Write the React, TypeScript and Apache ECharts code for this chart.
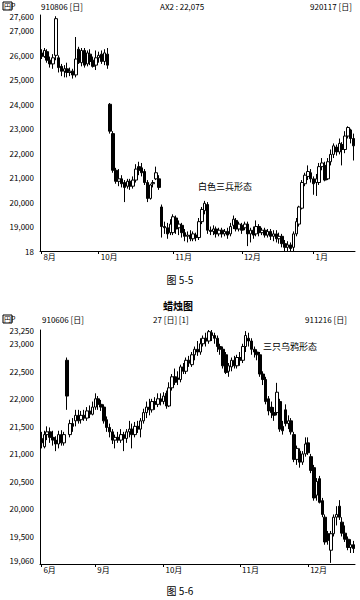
import React, { useEffect, useRef } from "react";
import * as echarts from "echarts";

// ---- Chart 1 (图 5-5) : [open, close, low, high]
const c1Candles: number[][] = [
  [26100, 25950, 25850, 26250], [25950, 26200, 25900, 26300], [26150, 25800, 25700, 26250], [25800, 25650, 25500, 25950],
  [25650, 25900, 25450, 26050], [26000, 27500, 25800, 27600], [25900, 25500, 25300, 26000], [25550, 25350, 25150, 25650],
  [25350, 25450, 25100, 25600], [25450, 25300, 25100, 25700], [25300, 25350, 25150, 25500], [25350, 25200, 25050, 25450],
  [25200, 25850, 25100, 26750], [26250, 25700, 25650, 26350], [25700, 26200, 25550, 26300], [26200, 25600, 25500, 26300],
  [25650, 26100, 25550, 26200], [26050, 25750, 25600, 26250], [25800, 25550, 25500, 25950], [25600, 25900, 25400, 26200],
  [25900, 26000, 25700, 26150], [26050, 25750, 25650, 26200], [25750, 26100, 25600, 26250], [26050, 25600, 25450, 26300],
  [24000, 22900, 22800, 24050], [22800, 21300, 21200, 22900], [21300, 20850, 20750, 21400], [20850, 20950, 20650, 21350],
  [20950, 20750, 20600, 21100], [20800, 20600, 20000, 20900], [20650, 20850, 20550, 20950], [20850, 20650, 20500, 20950],
  [20650, 20900, 20550, 21050], [20900, 21350, 20800, 21550], [21450, 21300, 21100, 21650], [21400, 21200, 21050, 21600],
  [21250, 20800, 20700, 21350], [20800, 20150, 20000, 20900], [20150, 20700, 20100, 20750], [20750, 20800, 20600, 20900],
  [20950, 21200, 20900, 21450], [20950, 20600, 20500, 21100], [19800, 19000, 18550, 19900], [19000, 18950, 18700, 19200],
  [18950, 18700, 18500, 19150], [18750, 19100, 18650, 19300], [18750, 19400, 18650, 19500], [19350, 18900, 18700, 19450],
  [18950, 19100, 18650, 19250], [19050, 18750, 18550, 19150], [18750, 18600, 18400, 18900], [18600, 18650, 18350, 18800],
  [18650, 18500, 18400, 18850], [18500, 18700, 18400, 18800], [18650, 18550, 18400, 18750], [18550, 19200, 18450, 19350],
  [19200, 19700, 19100, 19800], [19650, 19950, 19500, 20050], [19900, 18850, 18700, 20000], [18850, 18800, 18650, 19000],
  [18800, 18900, 18650, 19050], [18900, 18700, 18550, 19000], [18700, 18850, 18600, 18950], [18850, 18700, 18550, 18950],
  [18700, 18800, 18600, 18900], [18800, 18650, 18500, 18950], [18700, 19000, 18600, 19150], [19050, 19300, 18900, 19450],
  [19250, 18900, 18800, 19350], [18900, 19100, 18800, 19200], [19050, 18850, 18700, 19150], [18950, 19100, 18850, 19200],
  [19100, 18700, 18200, 19200], [18700, 18850, 18350, 18950], [18850, 18650, 18500, 19000], [18700, 19000, 18600, 19250],
  [19000, 18750, 18600, 19100], [18750, 18850, 18650, 18950], [18850, 18650, 18550, 18950], [18650, 18800, 18550, 18900],
  [18800, 18600, 18450, 18900], [18600, 18700, 18400, 18850], [18700, 18500, 18350, 18850], [18500, 18600, 18300, 18750],
  [18600, 18300, 18150, 18700], [18300, 18150, 18000, 18450], [18150, 18250, 18000, 18400], [18250, 18100, 18000, 18350],
  [18150, 18700, 18000, 18800], [18700, 19200, 18600, 19350], [19100, 19800, 19000, 19850], [19750, 20800, 19700, 20900],
  [20750, 21100, 20650, 21200], [21050, 21250, 20900, 21500], [21200, 20950, 20800, 21350], [20950, 20750, 20300, 21050],
  [20800, 20950, 20250, 21150], [20800, 21450, 20700, 21600], [21450, 21600, 21300, 21800], [21500, 20900, 20850, 21650],
  [20950, 21650, 20900, 21800], [21650, 21950, 21500, 22150], [21950, 22300, 21800, 22400], [22250, 22050, 21900, 22350],
  [22050, 22400, 21950, 22600], [22350, 22150, 21500, 22450], [22150, 22700, 22000, 22900], [22700, 23050, 22600, 23100],
  [22950, 22600, 22400, 23000], [22600, 22300, 21700, 22800],
];
const c1TickIdx = [0, 20, 46, 70, 95];
const c1TickLabels = ["8月", "10月", "11月", "12月", "1月"];
const c1YValues = [18000, 19000, 20000, 21000, 22000, 23000, 24000, 25000, 26000, 27000, 27600];

// ---- Chart 2 (图 5-6)
const c2Candles: number[][] = [
  [21280, 21200, 21100, 21400], [21130, 21350, 21100, 21420], [21350, 21400, 21250, 21500], [21400, 21300, 21200, 21480],
  [21300, 21250, 21150, 21420], [21250, 21180, 21050, 21320], [21180, 21350, 21100, 21420], [21350, 21200, 21150, 21430],
  [21200, 21350, 21150, 21400], [22700, 22050, 21800, 22750], [21350, 21550, 21300, 21620], [21550, 21500, 21400, 21650],
  [21600, 21700, 21500, 21800], [21700, 21600, 21550, 21800], [21620, 21700, 21550, 21780], [21700, 21650, 21600, 21800],
  [21650, 21780, 21600, 21850], [21780, 21720, 21650, 21880], [21720, 21850, 21700, 21950], [21850, 22000, 21800, 22100],
  [22000, 21900, 21800, 22050], [21900, 21850, 21780, 21980], [21850, 21600, 21550, 21900], [21620, 21480, 21400, 21680],
  [21480, 21400, 21300, 21550], [21400, 21250, 21180, 21450], [21250, 21300, 21100, 21350], [21300, 21250, 21200, 21400],
  [21250, 21350, 21200, 21450], [21350, 21280, 21050, 21400], [21280, 21400, 21200, 21450], [21400, 21450, 21300, 21600],
  [21450, 21350, 21100, 21550], [21350, 21500, 21300, 21580], [21500, 21450, 21380, 21600], [21450, 21600, 21300, 21650],
  [21600, 21750, 21550, 21820], [21750, 21850, 21650, 21950], [21850, 21800, 21700, 22000], [21800, 21950, 21750, 22000],
  [21950, 21900, 21800, 22030], [21900, 22000, 21850, 22100], [22000, 21950, 21880, 22100], [21950, 22050, 21900, 22120],
  [22100, 21870, 21820, 22150], [21870, 22200, 21850, 22300], [22200, 22400, 22150, 22450], [22400, 22300, 22250, 22550],
  [22380, 22350, 22250, 22500], [22350, 22580, 22300, 22620], [22580, 22500, 22450, 22650], [22500, 22700, 22450, 22750],
  [22700, 22650, 22580, 22780], [22620, 22800, 22580, 22850], [22800, 22900, 22700, 22950], [22900, 22850, 22780, 23050],
  [22850, 23000, 22800, 23100], [23000, 23100, 22950, 23150], [23100, 23050, 22950, 23200], [23050, 23220, 23000, 23250],
  [23200, 23150, 23050, 23250], [23150, 23100, 23000, 23200], [23100, 22950, 22850, 23150], [22950, 22900, 22800, 23000],
  [22900, 22600, 22550, 22950], [22800, 22480, 22450, 22850], [22500, 22600, 22400, 22650], [22580, 22700, 22500, 22750],
  [22700, 22600, 22550, 22780], [22600, 22750, 22550, 22800], [22750, 22700, 22600, 22850], [22700, 22950, 22650, 23000],
  [22950, 23150, 22850, 23230], [23100, 23050, 22950, 23200], [23050, 22900, 22800, 23100], [22900, 22850, 22750, 22950],
  [22850, 22800, 22700, 22900], [22800, 22450, 22400, 22850], [22450, 22350, 22250, 22500], [22350, 21950, 21900, 22400],
  [22000, 21780, 21700, 22050], [21850, 21750, 21650, 21950], [21750, 21700, 21600, 21850], [21750, 22120, 21700, 22290],
  [21950, 21450, 21400, 22000], [21500, 21420, 21350, 21600], [21800, 21550, 21500, 21900], [21550, 21600, 21450, 21700],
  [21600, 21400, 21350, 21650], [21350, 20900, 20850, 21400], [20900, 21100, 20800, 21150], [21050, 20850, 20750, 21100],
  [20850, 21000, 20800, 21050], [21000, 21180, 20950, 21300], [21200, 21020, 20980, 21300], [20950, 20700, 20650, 21000],
  [20750, 20200, 20150, 20800], [20250, 20500, 20150, 20560], [20550, 20120, 20100, 20600], [20150, 19900, 19850, 20200],
  [19850, 19400, 19350, 19900], [19550, 19430, 19350, 19600], [19250, 19550, 19020, 19600], [19550, 19850, 19500, 19900],
  [19850, 19900, 19700, 20050], [20050, 19850, 19800, 20160], [19760, 19560, 19500, 19850], [19560, 19450, 19400, 19700],
  [19450, 19300, 19250, 19500], [19300, 19350, 19200, 19450], [19350, 19280, 19200, 19420],
];
const c2TickIdx = [0, 19, 43, 70, 94];
const c2TickLabels = ["6月", "9月", "10月", "11月", "12月"];
const c2YValues = [19060, 19500, 20000, 20500, 21000, 21500, 22000, 22500, 23000, 23250];

const FONT = '"Noto Sans CJK SC", "DejaVu Sans", sans-serif';

function fmtNum(v: number): string {
  const th = Math.floor(v / 1000);
  const rest = Math.round(v % 1000);
  return th + "," + String(rest).padStart(3, "0");
}

function xAxisFor(grid: number, n: number, idx: number[], labels: string[]) {
  const cats = Array.from({ length: n }, (_, i) => String(i));
  const show = (i: number) => idx.indexOf(i) >= 0;
  return {
    gridIndex: grid,
    type: "category",
    data: cats,
    boundaryGap: true,
    axisLine: { show: true, onZero: false, lineStyle: { color: "#000", width: 1 } },
    axisTick: { show: true, length: 3, alignWithLabel: true, interval: (i: number) => show(i), lineStyle: { color: "#000" } },
    axisLabel: {
      interval: (i: number) => show(i),
      formatter: (_v: string, i: number) => {
        const k = idx.indexOf(i);
        return k >= 0 ? labels[k] : "";
      },
      align: "left",
      padding: [0, 0, 0, 2],
      margin: 1,
      fontSize: 8,
      color: "#000",
      fontFamily: FONT,
    },
    splitLine: { show: false },
  };
}

function text(x: number, y: number, s: string, size: number, align = "left", weight = "normal") {
  return {
    type: "text",
    x,
    y,
    silent: true,
    style: {
      text: s,
      fill: "#000",
      font: `${weight} ${size}px ${FONT}`,
      align,
      textAlign: align,
      verticalAlign: "middle",
      textVerticalAlign: "middle",
    },
  };
}

export default function App() {
  const ref = useRef<HTMLDivElement>(null);
  useEffect(() => {
    if (!ref.current) return;
    const chart = echarts.init(ref.current, null, { renderer: "svg" });
    const candleStyle = {
      color: "#fff",
      color0: "#000",
      borderColor: "#000",
      borderColor0: "#000",
      borderColorDoji: "#000",
      borderWidth: 1,
    };
    chart.setOption({
      animation: false,
      backgroundColor: "#fff",
      textStyle: { fontFamily: FONT },
      grid: [
        { left: 40, right: 5, top: 15, height: 236 },
        { left: 40, right: 5, top: 330, height: 234 },
      ],
      xAxis: [
        xAxisFor(0, c1Candles.length, c1TickIdx, c1TickLabels),
        xAxisFor(1, c2Candles.length, c2TickIdx, c2TickLabels),
      ],
      yAxis: [
        {
          gridIndex: 0,
          type: "value",
          min: 18000,
          max: 27650,
          axisLine: { show: true, lineStyle: { color: "#000" } },
          axisTick: { show: false },
          splitLine: { show: false },
          axisLabel: {
            customValues: c1YValues,
            formatter: (v: number) => (v === 18000 ? "18" : fmtNum(v)),
            fontSize: 8,
            color: "#000",
            margin: 6,
            fontFamily: FONT,
          },
        },
        {
          gridIndex: 1,
          type: "value",
          min: 19000,
          max: 23250,
          axisLine: { show: true, lineStyle: { color: "#000" } },
          axisTick: { show: false },
          splitLine: { show: false },
          axisLabel: {
            customValues: c2YValues,
            formatter: (v: number) => fmtNum(v),
            fontSize: 8,
            color: "#000",
            margin: 6,
            fontFamily: FONT,
          },
        },
      ],
      series: [
        { type: "candlestick", xAxisIndex: 0, yAxisIndex: 0, data: c1Candles, barWidth: 3, itemStyle: candleStyle },
        { type: "candlestick", xAxisIndex: 1, yAxisIndex: 1, data: c2Candles, barWidth: 3, itemStyle: candleStyle },
      ],
      graphic: [
        { type: "rect", shape: { x: 3, y: 2, width: 9, height: 8 }, style: { fill: "none", stroke: "#000", lineWidth: 1 } },
        text(4, 6, "円P", 7),
        text(41, 6, "910806 [日]", 8),
        text(160, 6, "AX2 : 22,075", 8),
        text(310, 6, "920117 [日]", 8),
        text(198, 186, "白色三兵形态", 9),
        text(180, 279, "图 5-5", 10, "center"),
        text(178, 305, "蜡烛图", 10, "center", "bold"),
        { type: "rect", shape: { x: 3, y: 315, width: 9, height: 8 }, style: { fill: "none", stroke: "#000", lineWidth: 1 } },
        text(4, 319, "円P", 7),
        text(42, 319, "910606 [日]", 8),
        text(153, 319, "27 [日] [1]", 8),
        text(305, 319, "911216 [日]", 8),
        text(263, 346, "三只乌鸦形态", 9),
        text(180, 590, "图 5-6", 10, "center"),
      ],
    });
    return () => chart.dispose();
  }, []);
  return (
    <div
      ref={ref}
      style={{ position: "absolute", left: 0, top: 0, width: 360, height: 600, background: "#fff" }}
    />
  );
}
